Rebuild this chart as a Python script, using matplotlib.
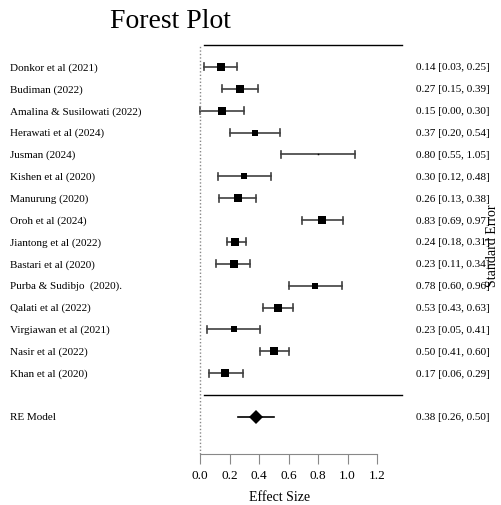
import matplotlib.pyplot as plt
import matplotlib.transforms as mtransforms

plt.rcParams['font.family'] = ['Liberation Serif', 'DejaVu Serif']

studies = [
    "Donkor et al (2021)",
    "Budiman (2022)",
    "Amalina & Susilowati (2022)",
    "Herawati et al (2024)",
    "Jusman (2024)",
    "Kishen et al (2020)",
    "Manurung (2020)",
    "Oroh et al (2024)",
    "Jiantong et al (2022)",
    "Bastari et al (2020)",
    "Purba & Sudibjo  (2020).",
    "Qalati et al (2022)",
    "Virgiawan et al (2021)",
    "Nasir et al (2022)",
    "Khan et al (2020)",
]
est = [0.14, 0.27, 0.15, 0.37, 0.80, 0.30, 0.26, 0.83, 0.24, 0.23, 0.78, 0.53, 0.23, 0.50, 0.17]
lo = [0.03, 0.15, 0.00, 0.20, 0.55, 0.12, 0.13, 0.69, 0.18, 0.11, 0.60, 0.43, 0.05, 0.41, 0.06]
hi = [0.25, 0.39, 0.30, 0.54, 1.05, 0.48, 0.38, 0.97, 0.31, 0.34, 0.96, 0.63, 0.41, 0.60, 0.29]
weights = [7.0, 7.0, 6.9, 6.8, 5.6, 6.6, 6.9, 7.0, 7.1, 7.0, 6.8, 7.1, 6.6, 7.1, 7.0]

re_label = "RE Model"
re_est, re_lo, re_hi = 0.38, 0.26, 0.50

xticks = [0.0, 0.2, 0.4, 0.6, 0.8, 1.0, 1.2]

W, H = 501, 506
fig = plt.figure(figsize=(W / 100, H / 100), dpi=100)
ax = fig.add_axes([190 / W, (H - 455) / H, 220 / W, 415 / H])

n = len(studies)
rows = list(range(n, 0, -1))
wmin, wmax = min(weights), max(weights)

for y, e, l, h, w in zip(rows, est, lo, hi, weights):
    ax.plot([l, h], [y, y], color='#404040', lw=1.2)
    for c in (l, h):
        ax.plot([c, c], [y - 0.16, y + 0.16], color='#404040', lw=1.2)
    ms = (1.5 + (w - wmin) / (wmax - wmin) * 6.8) * 0.72
    ax.plot(e, y, marker='s', color='black', ms=ms, mew=0, linestyle='none')

# summary
ax.plot([re_lo, re_hi], [-1, -1], color='black', lw=1.2)
ax.plot(re_est, -1, marker='D', color='black', ms=7, mew=0, linestyle='none')

# separators and reference line
ax.plot([0.027, 1.37], [n + 1, n + 1], color='black', lw=1)
ax.plot([0.027, 1.37], [0, 0], color='black', lw=1)
ax.plot([0, 0], [-2.7, n + 1], color='#888888', lw=1, linestyle=(0, (1, 1.5)))

ax.set_xlim((190 - 200) / 147.5, (410 - 200) / 147.5)
ax.set_ylim(-2.7, n + 1.28)

for s in ('top', 'right', 'left'):
    ax.spines[s].set_visible(False)
ax.spines['bottom'].set_bounds(0, 1.2)
ax.spines['bottom'].set_color('#888888')
ax.set_yticks([])
ax.set_xticks(xticks)
ax.set_xticklabels([f"{t:.1f}" for t in xticks], fontsize=9.5)
ax.tick_params(axis='x', length=7, color='#888888', pad=4)

left = mtransforms.blended_transform_factory(fig.transFigure, ax.transData)
for y, name, e, l, h in zip(rows, studies, est, lo, hi):
    ax.text(10 / W, y, name, transform=left, fontsize=8, va='center', ha='left')
    ax.text(416 / W, y, f"{e:.2f} [{l:.2f}, {h:.2f}]", transform=left,
            fontsize=8, va='center', ha='left')
ax.text(10 / W, -1, re_label, transform=left, fontsize=8, va='center', ha='left')
ax.text(416 / W, -1, f"{re_est:.2f} [{re_lo:.2f}, {re_hi:.2f}]", transform=left,
        fontsize=8, va='center', ha='left')

fig.text(170 / W, 1 - 22 / H, "Forest Plot", fontsize=20, ha='center', va='center')
fig.text(280 / W, 1 - 498 / H, "Effect Size", fontsize=10, ha='center', va='center')
fig.text(499 / W, 1 - 246 / H, "Standard Error", fontsize=10, rotation=90,
         ha='right', va='center')

fig.savefig("out.png", dpi=100)
